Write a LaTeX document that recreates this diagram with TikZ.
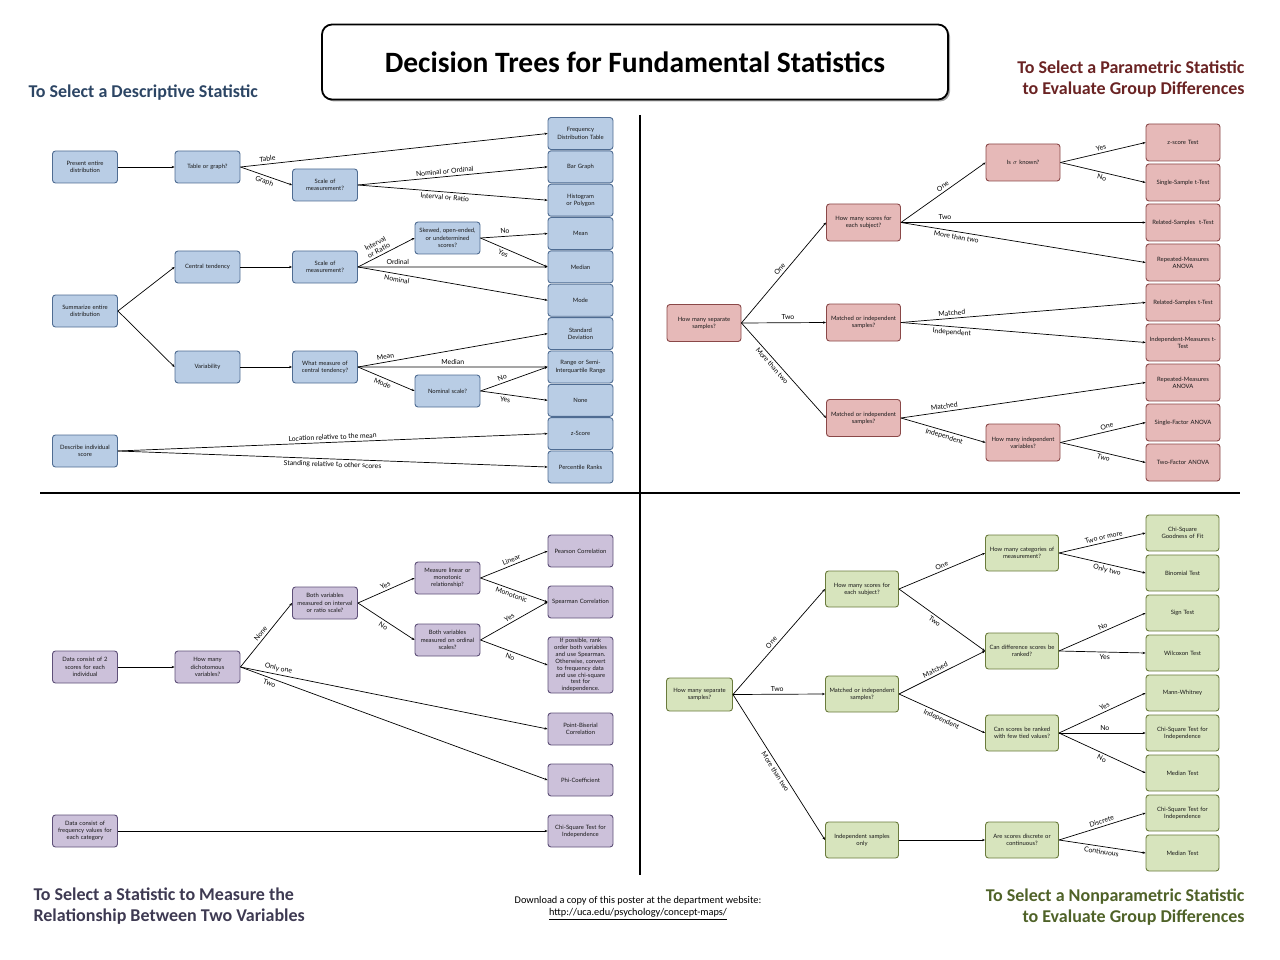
\documentclass[tikz,border=0pt]{standalone}
\usepackage{fontspec}
\setmainfont{Lato}
\newfontfamily\headfont{Carlito}
\usetikzlibrary{arrows.meta,shadows}
\definecolor{descfill}{HTML}{B9CDE5}
\definecolor{descline}{HTML}{4F6C92}
\definecolor{deschead}{HTML}{2C4564}
\definecolor{parfill}{HTML}{E6B9B8}
\definecolor{parline}{HTML}{8A4848}
\definecolor{parhead}{HTML}{6A2323}
\definecolor{relfill}{HTML}{CCC1DA}
\definecolor{relline}{HTML}{5E5078}
\definecolor{relhead}{HTML}{3E3A52}
\definecolor{npfill}{HTML}{D7E4BD}
\definecolor{npline}{HTML}{6A7B3C}
\definecolor{nphead}{HTML}{4F6228}

\begin{document}
\begin{tikzpicture}[x=1pt,y=-1pt,
  box/.style={draw, rounded corners=3pt, line width=0.9pt, align=center, text=black!90,
    font=\fontsize{5.9}{7.2}\selectfont, inner sep=1pt},
  dbox/.style={box, fill=descfill, draw=descline, text width=63pt, minimum width=65pt, minimum height=32pt},
  pbox/.style={box, fill=parfill, draw=parline, text width=72pt, minimum width=74pt, minimum height=37pt},
  rbox/.style={box, fill=relfill, draw=relline, text width=63pt, minimum width=65pt, minimum height=32pt},
  nbox/.style={box, fill=npfill, draw=npline, text width=71pt, minimum width=73pt, minimum height=36pt},
  edge/.style={-{Stealth[length=3pt,width=2.4pt]}, line width=0.7pt},
  lab/.style={sloped, font=\fontsize{6.9}{7.8}\selectfont, inner sep=2.4pt},
  head/.style={font=\headfont\bfseries\fontsize{18}{21}\selectfont},
]
\useasboundingbox (0,0) rectangle (1280,960);

% title and dividers
\node[draw, line width=1.8pt, rounded corners=10pt, fill=white, minimum width=626pt, minimum height=75pt,
  drop shadow={shadow xshift=2pt, shadow yshift=-2pt, fill=black!70},
  font=\headfont\bfseries\fontsize{29.5}{32}\selectfont] (title) at (635,62) {Decision Trees for Fundamental Statistics};
\draw[line width=2pt] (40,493) -- (1240,493);
\draw[line width=2pt] (640,115) -- (640,875);

% headings
\node[head, text=deschead, anchor=west] (hdesc) at (25,93) {To Select a Descriptive Statistic};
\node[head, text=parhead, anchor=east, align=right] (hpar) at (1248,79) {To Select a Parametric Statistic\\to Evaluate Group Differences};
\node[head, text=relhead, anchor=west, align=left] (hrel) at (30,906) {To Select a Statistic to Measure the\\Relationship Between Two Variables};
\node[head, text=nphead, anchor=east, align=right] (hnp) at (1248,907) {To Select a Nonparametric Statistic\\to Evaluate Group Differences};
\node[font=\headfont\fontsize{10.3}{12.5}\selectfont, align=center] (dl) at (638,908)
  {Download a copy of this poster at the department website:\\\underline{http://uca.edu/psychology/concept-maps/}};

% descriptive
\node[dbox] (pe) at (85,167) {Present entire\\distribution};
\node[dbox] (tg) at (207.5,167) {Table or graph?};
\node[dbox] (sm1) at (325,185) {Scale of\\measurement?};
\node[dbox] (se) at (85,311) {Summarize entire\\distribution};
\node[dbox] (ct) at (207.5,267) {Central tendency};
\node[dbox] (sm2) at (325,267) {Scale of\\measurement?};
\node[dbox] (sk) at (447.5,238) {Skewed, open-ended,\\or undetermined\\scores?};
\node[dbox] (va) at (207.5,367) {Variability};
\node[dbox] (wm) at (325,367) {What measure of\\central tendency?};
\node[dbox] (ns) at (447.5,391) {Nominal scale?};
\node[dbox] (di) at (85,451) {Describe individual\\score};
\foreach \n/\t [count=\i from 0] in {fdt/{Frequency\\Distribution Table}, bar/Bar Graph, hist/{Histogram\\or Polygon},
    mean/Mean, med/Median, mode/Mode, sd/{Standard\\Deviation}, rng/{Range or Semi-\\Interquartile Range},
    none/None, zs/z-Score, pr/Percentile Ranks}
  \node[dbox] (\n) at (580.5,{133.5+33.35*\i}) {\t};

\draw[edge] (pe.east) -- (tg.west);
\draw[edge] (tg.east) -- node[lab,above,pos=.09] {Table} (fdt.west);
\draw[edge] (tg.east) -- node[lab,below,pos=.5] {Graph} (sm1.west);
\draw[edge] (sm1.east) -- node[lab,above,pos=.46] {Nominal or Ordinal} (bar.west);
\draw[edge] (sm1.east) -- node[lab,below,pos=.46] {Interval or Ratio} (hist.west);
\draw[edge] (se.east) -- (ct.west);
\draw[edge] (se.east) -- (va.west);
\draw[edge] (ct.east) -- (sm2.west);
\draw[edge] (sm2.east) -- node[lab,above,pos=.41,align=center] {Interval\\or Ratio} (sk.west);
\draw[edge] (sm2.east) -- node[lab,above,pos=.21] {Ordinal} (med.west);
\draw[edge] (sm2.east) -- node[lab,below,pos=.21] {Nominal} (mode.west);
\draw[edge] (sk.east) -- node[lab,above,pos=.37] {No} (mean.west);
\draw[edge] (sk.east) -- node[lab,below,pos=.37] {Yes} (med.west);
\draw[edge] (va.east) -- (wm.west);
\draw[edge] (wm.east) -- node[lab,above,pos=.15] {Mean} (sd.west);
\draw[edge] (wm.east) -- node[lab,above,pos=.5] {Median} (rng.west);
\draw[edge] (wm.east) -- node[lab,below,pos=.47] {Mode} (ns.west);
\draw[edge] (ns.east) -- node[lab,above,pos=.35] {No} (rng.west);
\draw[edge] (ns.east) -- node[lab,below,pos=.38] {Yes} (none.west);
\draw[edge] (di.east) -- node[lab,above,pos=.5] {Location relative to the mean} (zs.west);
\draw[edge] (di.east) -- node[lab,below,pos=.5] {Standing relative to other scores} (pr.west);

% parametric
\node[pbox] (hm) at (704,323) {How many separate\\samples?};
\node[pbox] (hs) at (863.5,222.5) {How many scores for\\each subject?};
\node[pbox] (mi1) at (863.5,322.5) {Matched or independent\\samples?};
\node[pbox] (mi2) at (863.5,418) {Matched or independent\\samples?};
\node[pbox] (isk) at (1023,162.5) {Is $\sigma$ known?};
\node[pbox] (hi) at (1023,442.5) {How many independent\\variables?};
\foreach \n/\t [count=\i from 0] in {zt/z-score Test, sst/Single-Sample t-Test, rs1/Related-Samples\ \ t-Test,
    rm1/{Repeated-Measures\\ANOVA}, rs2/Related-Samples t-Test, imt/{Independent-Measures t-\\Test},
    rm2/{Repeated-Measures\\ANOVA}, sfa/Single-Factor ANOVA, tfa/Two-Factor ANOVA}
  \node[pbox] (\n) at (1183,{142.5+40*\i}) {\t};

\draw[edge] (hm.east) -- node[lab,above,pos=.5] {One} (hs.west);
\draw[edge] (hm.east) -- node[lab,above,pos=.55] {Two} (mi1.west);
\draw[edge] (hm.east) -- node[lab,below,pos=.41] {More than two} (mi2.west);
\draw[edge] (hs.east) -- node[lab,above,pos=.53] {One} (isk.west);
\draw[edge] (hs.east) -- node[lab,above,pos=.18] {Two} (rs1.west);
\draw[edge] (hs.east) -- node[lab,below,pos=.23] {More than two} (rm1.west);
\draw[edge] (isk.east) -- node[lab,above,pos=.49] {Yes} (zt.west);
\draw[edge] (isk.east) -- node[lab,below,pos=.5] {No} (sst.west);
\draw[edge] (mi1.east) -- node[lab,above,pos=.21] {Matched} (rs2.west);
\draw[edge] (mi1.east) -- node[lab,below,pos=.21] {Independent} (imt.west);
\draw[edge] (mi2.east) -- node[lab,above,pos=.18] {Matched} (rm2.west);
\draw[edge] (mi2.east) -- node[lab,below,pos=.53] {Independent} (hi.west);
\draw[edge] (hi.east) -- node[lab,above,pos=.56] {One} (sfa.west);
\draw[edge] (hi.east) -- node[lab,below,pos=.52] {Two} (tfa.west);

% relationship
\node[rbox] (dc) at (85,667) {Data consist of 2\\scores for each\\individual};
\node[rbox] (hd) at (207.5,667) {How many\\dichotomous\\variables?};
\node[rbox] (bv) at (325,603) {Both variables\\measured on interval\\or ratio scale?};
\node[rbox] (ml) at (447.5,578) {Measure linear or\\monotonic\\relationship?};
\node[rbox] (bo) at (447.5,640) {Both variables\\measured on ordinal\\scales?};
\node[rbox] (df) at (85,831) {Data consist of\\frequency values for\\each category};
\node[rbox] (pc) at (580.5,551) {Pearson Correlation};
\node[rbox] (sc) at (580.5,602) {Spearman Correlation};
\node[rbox, minimum height=56pt, font=\fontsize{5.9}{6.9}\selectfont] (ip) at (580.5,665) {If possible, rank\\order both variables\\and use Spearman.\\Otherwise, convert\\to frequency data\\and use chi-square\\test for\\independence.};
\node[rbox] (pb) at (580.5,729) {Point-Biserial\\Correlation};
\node[rbox] (phi) at (580.5,780) {Phi-Coefficient};
\node[rbox] (cs) at (580.5,831) {Chi-Square Test for\\Independence};

\draw[edge] (dc.east) -- (hd.west);
\draw[edge] (hd.east) -- node[lab,above,pos=.47] {None} (bv.west);
\draw[edge] (hd.east) -- node[lab,above,pos=.12] {Only one} (pb.west);
\draw[edge] (hd.east) -- node[lab,below,pos=.1] {Two} (phi.west);
\draw[edge] (bv.east) -- node[lab,above,pos=.52] {Yes} (ml.west);
\draw[edge] (bv.east) -- node[lab,below,pos=.5] {No} (bo.west);
\draw[edge] (ml.east) -- node[lab,above,pos=.49] {Linear} (pc.west);
\draw[edge] (ml.east) -- node[lab,below,pos=.49] {Monotonic} (sc.west);
\draw[edge] (bo.east) -- node[lab,above,pos=.47] {Yes} (sc.west);
\draw[edge] (bo.east) -- node[lab,below,pos=.47] {No} (ip.west);
\draw[edge] (df.east) -- (cs.west);

% nonparametric
\node[nbox, text width=64pt, minimum width=66pt, minimum height=33pt] (hm2) at (699.5,694.5) {How many separate\\samples?};
\node[nbox] (hs2) at (862,589) {How many scores for\\each subject?};
\node[nbox] (mi3) at (862,694) {Matched or independent\\samples?};
\node[nbox] (io) at (862,840) {Independent samples\\only};
\node[nbox] (hc) at (1022,553) {How many categories of\\measurement?};
\node[nbox] (cd) at (1022,651) {Can difference scores be\\ranked?};
\node[nbox] (cr) at (1022,733) {Can scores be ranked\\with few tied values?};
\node[nbox] (ad) at (1022,840) {Are scores discrete or\\continuous?};
\foreach \n/\t [count=\i from 0] in {cgf/{Chi-Square\\Goodness of Fit}, bin/Binomial Test, sign/Sign Test, wil/Wilcoxon Test,
    mw/Mann-Whitney, cs1/{Chi-Square Test for\\Independence}, med1/Median Test, cs2/{Chi-Square Test for\\Independence}, med2/Median Test}
  \node[nbox] (\n) at (1182.5,{533+40*\i}) {\t};

\draw[edge] (hm2.east) -- node[lab,above,pos=.46] {One} (hs2.west);
\draw[edge] (hm2.east) -- node[lab,above,pos=.48] {Two} (mi3.west);
\draw[edge] (hm2.east) -- node[lab,below,pos=.51] {More than two} (io.west);
\draw[edge] (hs2.east) -- node[lab,above,pos=.52] {One} (hc.west);
\draw[edge] (hs2.east) -- node[lab,below,pos=.45] {Two} (cd.west);
\draw[edge] (mi3.east) -- node[lab,above,pos=.45] {Matched} (cd.west);
\draw[edge] (mi3.east) -- node[lab,below,pos=.52] {Independent} (cr.west);
\draw[edge] (io.east) -- (ad.west);
\draw[edge] (hc.east) -- node[lab,above,pos=.53] {Two or more} (cgf.west);
\draw[edge] (hc.east) -- node[lab,below,pos=.57] {Only two} (bin.west);
\draw[edge] (cd.east) -- node[lab,above,pos=.53] {No} (sign.west);
\draw[edge] (cd.east) -- node[lab,below,pos=.53] {Yes} (wil.west);
\draw[edge] (cr.east) -- node[lab,above,pos=.55] {Yes} (mw.west);
\draw[edge] (cr.east) -- node[lab,above,pos=.53] {No} (cs1.west);
\draw[edge] (cr.east) -- node[lab,below,pos=.52] {No} (med1.west);
\draw[edge] (ad.east) -- node[lab,above,pos=.51] {Discrete} (cs2.west);
\draw[edge] (ad.east) -- node[lab,below,pos=.5] {Continuous} (med2.west);
\end{tikzpicture}
\end{document}
